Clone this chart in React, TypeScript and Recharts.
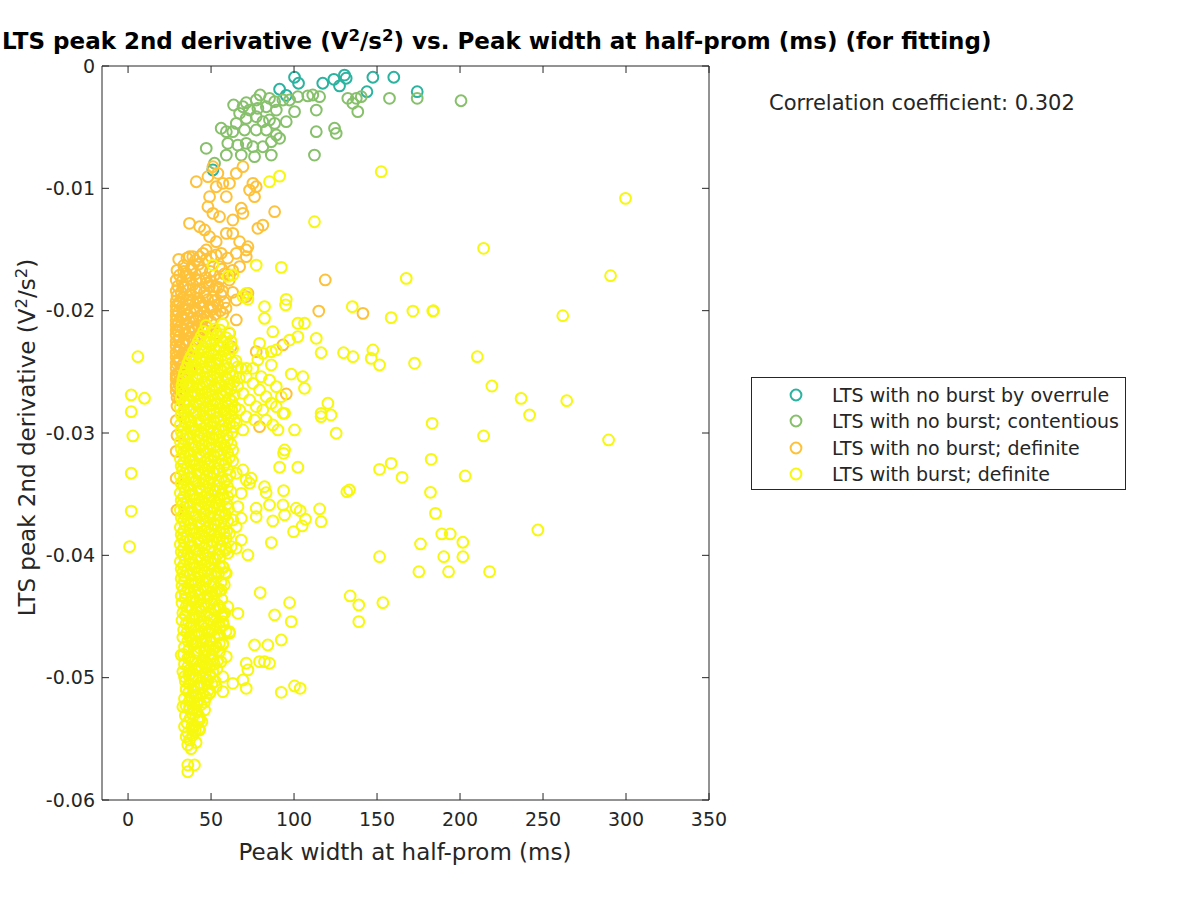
import React from 'react';
import { ReferenceLine, Scatter, ScatterChart, XAxis, YAxis } from 'recharts';

type Pt = [number, number];

const xTicks = [0, 50, 100, 150, 200, 250, 300, 350];
const yTicks = [-0.06, -0.05, -0.04, -0.03, -0.02, -0.01, 0];
const xDomain: [number, number] = [-15.7, 350];
const yDomain: [number, number] = [-0.06, 0];

// LTS with no burst by overrule
const overrule: Pt[] = [
  [100.3, -0.00092], [102.7, -0.00141], [117.3, -0.00141], [124.0, -0.00109], [130.4, -0.00074],
  [131.4, -0.001], [127.4, -0.00163], [147.5, -0.00092], [160.1, -0.00092], [174.2, -0.0021],
  [143.9, -0.0021], [91.3, -0.0019], [95.3, -0.0024], [51.1, -0.0085],
];

// LTS with no burst; contentious
const contentious: Pt[] = [
  [63.6, -0.00319], [71.2, -0.003], [79.6, -0.00237], [77.2, -0.00278], [85.2, -0.00264],
  [88.3, -0.00292], [93.3, -0.00278], [97.3, -0.00278], [102.3, -0.00251], [108.3, -0.00245],
  [111.3, -0.00237], [115.4, -0.00251], [113.4, -0.0036], [100.3, -0.00373], [95.3, -0.00455],
  [88.3, -0.00469], [85.2, -0.00441], [81.2, -0.00455], [77.2, -0.00414], [71.2, -0.00428],
  [67.2, -0.00387], [65.2, -0.00469], [56.1, -0.00509], [59.2, -0.00537], [63.1, -0.00537],
  [70.2, -0.00523], [77.2, -0.00523], [83.3, -0.00523], [89.3, -0.00564], [91.3, -0.00591],
  [86.3, -0.00619], [81.2, -0.0066], [75.2, -0.0066], [71.2, -0.00632], [66.1, -0.00646],
  [60.1, -0.00632], [59.2, -0.00728], [68.2, -0.00728], [76.2, -0.00741], [86.3, -0.00728],
  [47.1, -0.00673], [52.1, -0.00795], [113.4, -0.00537], [124.4, -0.00509], [125.4, -0.0055],
  [112.3, -0.00728], [132.4, -0.00264], [137.5, -0.00264], [140.5, -0.00251], [135.4, -0.00305],
  [138.4, -0.00373], [157.5, -0.00264], [174.2, -0.00264], [69.2, -0.00333], [73.2, -0.0036],
  [78.2, -0.00346], [83.3, -0.00333], [89.3, -0.0036], [200.6, -0.00284],
];

// LTS with no burst; definite
const noBurstSpread: Pt[] = [
  [41.1, -0.00946], [48.1, -0.00905], [51.1, -0.00823], [54.1, -0.00877], [57.1, -0.00959],
  [53.1, -0.00987], [61.1, -0.00959], [65.2, -0.00877], [69.2, -0.00823], [59.2, -0.01068],
  [49.1, -0.01068], [48.1, -0.0115], [51.1, -0.01204], [55.1, -0.01232], [68.2, -0.01163],
  [69.2, -0.01204], [63.1, -0.01259], [37.0, -0.01286], [43.1, -0.01314], [46.1, -0.0134],
  [49.1, -0.01395], [53.1, -0.01436], [59.2, -0.01368], [63.1, -0.01368], [67.2, -0.01436],
  [72.2, -0.01477], [78.2, -0.01327], [81.2, -0.013], [73.2, -0.01014], [76.2, -0.01068],
  [77.2, -0.00987], [75.2, -0.00959], [88.3, -0.01191], [47.1, -0.01504], [39.0, -0.01559],
  [43.1, -0.01559], [50.1, -0.01559], [56.1, -0.01531], [65.2, -0.01531], [71.2, -0.01504],
  [37.0, -0.01559], [45.1, -0.01531], [53.1, -0.01545], [71.2, -0.01559], [67.2, -0.0164],
  [61.1, -0.01708], [35.0, -0.01695], [41.1, -0.01749], [33.0, -0.01804], [47.1, -0.01776],
  [53.1, -0.01804], [72.2, -0.01858], [65.2, -0.01913], [71.2, -0.01885], [31.0, -0.0194],
  [37.0, -0.01913], [43.1, -0.0194], [51.1, -0.01967], [57.1, -0.02022], [65.2, -0.02076],
  [33.0, -0.02049], [39.0, -0.02131], [45.1, -0.02076], [30.0, -0.02158], [35.0, -0.0224],
  [43.1, -0.02212], [53.1, -0.02185], [61.1, -0.02185], [62.1, -0.02294], [31.0, -0.02294],
  [30.0, -0.02403], [37.0, -0.02376], [29.0, -0.0254], [33.0, -0.02594], [29.0, -0.02621],
  [37.0, -0.02485], [31.0, -0.0273], [77.2, -0.02335], [93.3, -0.0228], [95.3, -0.02681],
  [79.2, -0.02948], [118.8, -0.01749], [114.9, -0.02003], [141.5, -0.02022], [29.0, -0.0337],
  [29.5, -0.0363],
];

const noBurstCloud: Pt[] = [
  [33.5, -0.0163], [38, -0.0165], [42.5, -0.0162], [55, -0.0164],
  [31, -0.0171], [36, -0.0172], [40.5, -0.017], [47, -0.0173], [52, -0.0171], [58, -0.017],
  [30, -0.018], [34.5, -0.0181], [39, -0.0179], [43.5, -0.0182], [49, -0.018], [54.5, -0.0181],
  [29.5, -0.0188], [33, -0.0189], [37.5, -0.0187], [42, -0.019], [46.5, -0.0188], [51, -0.0189], [56, -0.0187],
  [29, -0.0196], [32.5, -0.0197], [36, -0.0195], [40.5, -0.0198], [45, -0.0196], [49.5, -0.0197], [54, -0.0195], [59, -0.0198],
  [29, -0.0204], [32, -0.0205], [35.5, -0.0203], [39, -0.0206], [43.5, -0.0204], [48, -0.0205], [52.5, -0.0203],
  [29, -0.0212], [31.5, -0.0213], [35, -0.0211], [38.5, -0.0214], [42.5, -0.0212], [47, -0.0213],
  [29, -0.022], [31, -0.0221], [34.5, -0.0219], [38, -0.0222], [42, -0.022],
  [29, -0.0229], [31.5, -0.023], [35, -0.0228], [39, -0.0231],
  [29, -0.0238], [31, -0.0239], [34.5, -0.0237],
  [29, -0.0247], [32, -0.0248], [35, -0.0246],
  [29, -0.0256], [31, -0.0257],
  [29, -0.0266], [31.5, -0.0267],
  [29.5, -0.0278], [29, -0.029], [29.5, -0.0302], [29, -0.0315],
  [30.5, -0.0158], [35.5, -0.0157], [40.5, -0.0159], [47, -0.0158], [60, -0.0157],
  [29.5, -0.0167], [33.5, -0.0168], [38.5, -0.0166], [44.5, -0.0167], [49.5, -0.0168], [56.5, -0.0166], [63, -0.0167],
  [29, -0.0175], [32.5, -0.0176], [37.5, -0.0174], [43, -0.0175], [50, -0.0176], [55.5, -0.0174], [61, -0.0175],
  [29, -0.0184], [32, -0.0185], [36.5, -0.0183], [41, -0.0184], [46, -0.0185], [51.5, -0.0183], [57, -0.0184], [63, -0.0185],
  [29, -0.0192], [31, -0.0193], [35, -0.0191], [39, -0.0192], [43.5, -0.0193], [48, -0.0191], [52.5, -0.0192], [58, -0.0193],
  [29, -0.02], [30.5, -0.0201], [34, -0.0199], [37.5, -0.0201], [41.5, -0.02], [46, -0.0201], [50.5, -0.0199], [55.5, -0.02],
  [29, -0.0208], [30.5, -0.0209], [33.5, -0.0207], [37, -0.0209], [41, -0.0208], [45, -0.0207], [50, -0.0209],
  [29, -0.0216], [30.5, -0.0217], [33, -0.0215], [36.5, -0.0217], [40.5, -0.0216], [44.5, -0.0215],
  [29, -0.0225], [30.5, -0.0224], [33, -0.0226], [36.5, -0.0225], [40, -0.0224],
  [29, -0.0234], [30.5, -0.0233], [33, -0.0235], [36.5, -0.0234],
  [29, -0.0243], [30.5, -0.0242], [33, -0.0244],
  [29, -0.0252], [30.5, -0.0251], [33, -0.0253],
  [29, -0.0261], [30.5, -0.026],
  [29.5, -0.0271],
];

// LTS with burst; definite
const burstSpread: Pt[] = [
  [85.2, -0.00946], [91.3, -0.009], [112.3, -0.01273], [152.5, -0.00864],
  [51.1, -0.01627], [63.1, -0.01708], [60.1, -0.0172], [77.2, -0.01627], [92.3, -0.01646],
  [71.2, -0.01858], [72.2, -0.01907], [69.2, -0.01885], [82.2, -0.01967], [82.2, -0.02063],
  [95.3, -0.01907], [94.9, -0.01953], [87.2, -0.02172], [102.3, -0.02103], [106.3, -0.02103],
  [102.3, -0.02212], [97.3, -0.0224], [89.3, -0.02321], [86.3, -0.02335], [79.2, -0.02267],
  [81.2, -0.02349], [86.3, -0.02444], [78.2, -0.02403], [71.2, -0.02471], [75.2, -0.02471],
  [80.2, -0.0254], [85.2, -0.02567], [89.3, -0.02621], [98.3, -0.02518], [105.3, -0.0254],
  [106.3, -0.02635], [113.4, -0.02226], [116.3, -0.02344], [135.1, -0.01967], [158.5, -0.02057],
  [167.6, -0.01736], [171.6, -0.02003], [183.6, -0.02003], [129.8, -0.02344], [135.5, -0.02376],
  [147.5, -0.02321], [146.5, -0.0239], [151.5, -0.02444], [172.6, -0.0243], [120.4, -0.02757],
  [116.3, -0.02839], [116.3, -0.02866], [122.3, -0.02853], [125.4, -0.03002], [94.3, -0.02839],
  [90.3, -0.02975], [100.3, -0.02975], [94.3, -0.03139], [5.9, -0.02376], [1.9, -0.02689],
  [9.9, -0.02716], [1.9, -0.02826], [2.9, -0.03024],
  [68.2, -0.02471], [71.2, -0.0254], [75.2, -0.02594], [79.2, -0.02648], [83.2, -0.02703],
  [86.3, -0.02757], [89.3, -0.02785], [92.3, -0.02703], [93.3, -0.02839], [81.2, -0.02812],
  [77.2, -0.02785], [73.2, -0.0273], [69.2, -0.02676], [67.2, -0.02812], [71.2, -0.02866],
  [76.2, -0.02894], [83.2, -0.02894], [87.2, -0.02934], [69.2, -0.02975], [65.2, -0.0292],
  [1.9, -0.03329], [1.9, -0.03638], [0.9, -0.03929], [93.7, -0.03166], [91.3, -0.0328],
  [102.3, -0.0328], [82.2, -0.03439], [83.2, -0.03488], [93.7, -0.03471], [74.2, -0.0337],
  [73.2, -0.0341], [85.2, -0.03588], [93.3, -0.03588], [77.2, -0.03615], [77.2, -0.03684],
  [87.2, -0.03719], [94.3, -0.0367], [101.3, -0.03615], [103.7, -0.03635], [106.9, -0.03705],
  [115.4, -0.03621], [116.3, -0.03725], [99.7, -0.03807], [104.9, -0.0376], [86.3, -0.03896],
  [72.2, -0.03997], [68.2, -0.03875], [65.2, -0.03942], [60.1, -0.03983], [66.2, -0.04474],
  [79.6, -0.04305], [97.3, -0.04387], [88.3, -0.04487], [98.3, -0.04542], [133.8, -0.04332],
  [139.0, -0.04406], [139.0, -0.04542], [153.5, -0.04387], [151.5, -0.04011], [175.2, -0.04134],
  [176.2, -0.03907], [151.5, -0.03297], [158.5, -0.03248], [165.1, -0.03362], [131.8, -0.0348],
  [133.4, -0.03466],
  [65.2, -0.03329], [69.2, -0.03302], [71.2, -0.03384], [68.2, -0.03493], [66.2, -0.03602],
  [63.1, -0.03711], [65.2, -0.03766], [61.1, -0.0382], [68.2, -0.03697], [62.1, -0.03929],
  [57.1, -0.03875], [57.1, -0.04093], [59.2, -0.04147], [56.1, -0.04283], [60.1, -0.0442],
  [58.2, -0.04474], [57.1, -0.04542], [61.1, -0.04624],
  [76.2, -0.04733], [84.2, -0.04733], [92.3, -0.04692], [71.2, -0.04882], [72.2, -0.04937],
  [79.2, -0.04869], [82.2, -0.04869], [85.2, -0.04882], [69.2, -0.05019], [71.2, -0.05087],
  [92.3, -0.0512], [100.3, -0.05068], [103.7, -0.05087], [61.1, -0.04637], [36.0, -0.05714],
  [40.0, -0.05714], [36.0, -0.05769],
  [32.0, -0.04814], [34.0, -0.04992], [33.0, -0.05237], [34.0, -0.054], [36.0, -0.0555],
  [43.1, -0.05428], [46.1, -0.05264], [49.1, -0.05128], [53.1, -0.05073], [57.1, -0.04992],
  [63.1, -0.05046], [59.2, -0.04828], [57.1, -0.04719], [55.1, -0.04651], [37.0, -0.04665],
  [39.0, -0.05428], [35.0, -0.05482], [43.1, -0.05346], [37.0, -0.05237], [41.1, -0.05155],
  [35.0, -0.051], [37.0, -0.04937], [47.1, -0.05019], [45.1, -0.04882], [51.1, -0.04855],
  [53.1, -0.04746], [47.1, -0.04774], [41.1, -0.04719], [57.1, -0.05114],
  [299.7, -0.01082], [214.2, -0.0149], [290.7, -0.01714], [184.0, -0.02], [261.9, -0.02041],
  [210.4, -0.02376], [219.2, -0.02616], [236.8, -0.02717], [264.3, -0.02736], [241.9, -0.02853],
  [183.2, -0.02921], [214.2, -0.03024], [289.5, -0.03057], [182.6, -0.03215], [203.1, -0.03351],
  [182.2, -0.03485], [185.2, -0.03657], [189.0, -0.03825], [194.1, -0.03825], [201.7, -0.03893],
  [190.2, -0.04011], [201.7, -0.04011], [193.1, -0.04134], [217.8, -0.04134], [246.9, -0.03793],
];

const burstCloud: Pt[] = [
  [47, -0.0212], [52, -0.0215], [57, -0.0211],
  [44, -0.0221], [49.5, -0.0223], [54, -0.022], [59, -0.0222],
  [41, -0.0229], [45.5, -0.0231], [50, -0.0228], [55, -0.023], [60, -0.0228],
  [38, -0.0237], [42.5, -0.0235], [47, -0.0238], [51.5, -0.0236], [56, -0.0237], [61, -0.0235],
  [36, -0.0243], [40, -0.0245], [44.5, -0.0242], [49, -0.0244], [53.5, -0.0243], [58, -0.0245], [63, -0.0242],
  [34, -0.0251], [38.5, -0.0249], [43, -0.0252], [47.5, -0.025], [52, -0.0251], [56.5, -0.0249], [61, -0.0251],
  [33, -0.0257], [37, -0.0259], [41.5, -0.0256], [46, -0.0258], [50.5, -0.0257], [55, -0.0259], [60, -0.0256], [64, -0.0258],
  [32.5, -0.0265], [36, -0.0263], [40, -0.0266], [44.5, -0.0264], [49, -0.0265], [53.5, -0.0263], [58, -0.0265], [62, -0.0264],
  [32, -0.0271], [35, -0.0273], [39.5, -0.027], [43.5, -0.0272], [48, -0.0271], [52.5, -0.0273], [57, -0.027], [61, -0.0272],
  [31.5, -0.0279], [34, -0.0277], [38, -0.028], [42.5, -0.0278], [47, -0.0279], [51, -0.0277], [55.5, -0.028], [60, -0.0278], [64.5, -0.0279],
  [32, -0.0285], [36, -0.0287], [40.5, -0.0284], [45, -0.0286], [49.5, -0.0285], [54, -0.0287], [58.5, -0.0284], [62, -0.0286],
  [31.5, -0.0293], [34.5, -0.0291], [38.5, -0.0294], [43, -0.0292], [47.5, -0.0293], [52, -0.0291], [56.5, -0.0294], [61, -0.0292],
  [32, -0.0299], [35.5, -0.0301], [40, -0.0298], [44, -0.03], [48.5, -0.0299], [53, -0.0301], [57.5, -0.0298], [62.5, -0.03],
  [31.5, -0.0307], [34, -0.0305], [38.5, -0.0308], [42.5, -0.0306], [47, -0.0307], [51.5, -0.0305], [56, -0.0308], [60, -0.0306],
  [32, -0.0313], [36, -0.0315], [40.5, -0.0312], [45, -0.0314], [49.5, -0.0313], [54, -0.0315], [58.5, -0.0312], [63, -0.0314],
  [31.5, -0.0321], [34.5, -0.0319], [39, -0.0322], [43.5, -0.032], [48, -0.0321], [52, -0.0319], [56.5, -0.0322], [61, -0.032],
  [32, -0.0327], [35.5, -0.0329], [40, -0.0326], [44.5, -0.0328], [49, -0.0327], [53.5, -0.0329], [58, -0.0326],
  [31.5, -0.0335], [34, -0.0333], [38.5, -0.0336], [43, -0.0334], [47.5, -0.0335], [52, -0.0333], [56.5, -0.0336], [61.5, -0.0334],
  [32, -0.0341], [36, -0.0343], [40.5, -0.034], [45, -0.0342], [49, -0.0341], [53.5, -0.0343], [58, -0.034],
  [31.5, -0.0349], [34.5, -0.0347], [39, -0.035], [43.5, -0.0348], [48, -0.0349], [52.5, -0.0347], [57, -0.035], [62, -0.0348],
  [32, -0.0355], [35.5, -0.0357], [40, -0.0354], [44.5, -0.0356], [49, -0.0355], [53, -0.0357], [58, -0.0354],
  [31.5, -0.0363], [34, -0.0361], [38.5, -0.0364], [43, -0.0362], [47.5, -0.0363], [52, -0.0361], [56.5, -0.0364], [60.5, -0.0362],
  [32, -0.0369], [36, -0.0371], [40.5, -0.0368], [45, -0.037], [49.5, -0.0369], [54, -0.0371], [58.5, -0.0368],
  [31.5, -0.0377], [34.5, -0.0375], [39, -0.0378], [43.5, -0.0376], [48, -0.0377], [52.5, -0.0375], [57, -0.0378],
  [32, -0.0383], [35.5, -0.0385], [40, -0.0382], [44.5, -0.0384], [49, -0.0383], [53.5, -0.0385], [58, -0.0382],
  [31.5, -0.0391], [34, -0.0389], [38.5, -0.0392], [43, -0.039], [47.5, -0.0391], [51.5, -0.0389], [56, -0.0392],
  [32, -0.0397], [36, -0.0399], [40.5, -0.0396], [45, -0.0398], [49, -0.0397], [54, -0.0399], [58.5, -0.0396],
  [31.5, -0.0405], [34.5, -0.0403], [39, -0.0406], [43.5, -0.0404], [48, -0.0405], [52.5, -0.0403],
  [32, -0.0411], [35.5, -0.0413], [40, -0.041], [44.5, -0.0412], [49, -0.0411], [53.5, -0.0413], [57.5, -0.041],
  [32, -0.0419], [34, -0.0417], [38.5, -0.042], [43, -0.0418], [47.5, -0.0419], [52, -0.0417],
  [32.5, -0.0425], [36, -0.0427], [40.5, -0.0424], [45, -0.0426], [49.5, -0.0425], [54, -0.0427], [58, -0.0424],
  [32, -0.0433], [34.5, -0.0431], [39, -0.0434], [43.5, -0.0432], [48, -0.0433], [52.5, -0.0431],
  [32.5, -0.0439], [36.5, -0.0441], [41, -0.0438], [45.5, -0.044], [50, -0.0439], [54.5, -0.0441],
  [33, -0.0447], [35.5, -0.0445], [40, -0.0448], [44, -0.0446], [48.5, -0.0447], [53, -0.0445], [57, -0.0448],
  [32.5, -0.0453], [36.5, -0.0455], [41, -0.0452], [45.5, -0.0454], [50, -0.0453], [54.5, -0.0455],
  [33.5, -0.0461], [37.5, -0.0459], [42, -0.0462], [46.5, -0.046], [51, -0.0461], [55.5, -0.0459], [59, -0.0462],
  [33, -0.0467], [38, -0.0469], [42.5, -0.0466], [47, -0.0468], [52, -0.0467],
  [34, -0.0475], [39, -0.0473], [43.5, -0.0476], [48.5, -0.0474], [53, -0.0475], [57, -0.0473],
  [33.5, -0.0481], [37, -0.0483], [41.5, -0.048], [46, -0.0482], [50.5, -0.0481],
  [34, -0.0489], [38.5, -0.0487], [43, -0.049], [47.5, -0.0488], [52, -0.0489], [56, -0.0487],
  [33, -0.0495], [37.5, -0.0497], [42, -0.0494], [46.5, -0.0496], [51, -0.0495],
  [34.5, -0.0503], [39, -0.0501], [43.5, -0.0504], [48, -0.0502], [52.5, -0.0503],
  [35, -0.0509], [39.5, -0.0511], [44, -0.0508], [48.5, -0.051],
  [34, -0.0517], [38, -0.0515], [42.5, -0.0518], [47, -0.0516],
  [35, -0.0523], [39.5, -0.0525], [44, -0.0522],
  [34.5, -0.0531], [38.5, -0.0529], [43, -0.0532],
  [35.5, -0.0537], [40, -0.0539], [44.5, -0.0536],
  [36, -0.0545], [40.5, -0.0543],
  [37, -0.0551], [41, -0.0553],
  [38, -0.0558],
];

const burstCloudFill: Pt[] = [
  [45.5, -0.0217], [50.5, -0.0218], [55.5, -0.0216], [61, -0.0218],
  [42.5, -0.0225], [47, -0.0226], [52, -0.0224], [57, -0.0226], [62, -0.0225],
  [39.5, -0.0233], [44, -0.0232], [48.5, -0.0234], [53, -0.0232], [58, -0.0233], [63, -0.0231],
  [37, -0.024], [40.5, -0.0241], [45, -0.0239], [49.5, -0.0241], [54, -0.024], [59, -0.0239], [65, -0.0241],
  [35, -0.0247], [38.5, -0.0246], [42, -0.0248], [46.5, -0.0247], [51, -0.0246], [55.5, -0.0248], [60, -0.0247], [66, -0.0246],
  [33.5, -0.0254], [36, -0.0253], [40.5, -0.0255], [45, -0.0254], [49.5, -0.0253], [54, -0.0255], [58.5, -0.0254], [63, -0.0253], [67, -0.0255],
  [32.5, -0.0261], [35, -0.026], [39, -0.0262], [43, -0.0261], [47.5, -0.026], [52, -0.0262], [56.5, -0.0261], [61, -0.026], [66, -0.0262],
  [33.5, -0.0267], [38, -0.0269], [42, -0.0268], [46.5, -0.0267], [51, -0.0269], [55.5, -0.0268], [59.5, -0.0267], [64, -0.0269],
  [33.5, -0.0275], [36.5, -0.0274], [41, -0.0276], [45, -0.0275], [49.5, -0.0274], [54, -0.0276], [58.5, -0.0275], [62.5, -0.0274],
  [33.5, -0.0282], [36.5, -0.0281], [41, -0.0283], [45, -0.0282], [49.5, -0.0281], [53.5, -0.0283], [58, -0.0282], [62.5, -0.0281],
  [33.5, -0.0288], [38, -0.029], [42.5, -0.0289], [47, -0.0288], [51.5, -0.029], [56, -0.0289], [60.5, -0.0288], [64, -0.029],
  [33.5, -0.0296], [36.5, -0.0295], [41, -0.0297], [45.5, -0.0296], [50, -0.0295], [54.5, -0.0297], [59, -0.0296], [63.5, -0.0295],
  [33, -0.0302], [37.5, -0.0304], [42, -0.0303], [46, -0.0302], [50.5, -0.0304], [55, -0.0303], [59.5, -0.0302],
  [33.5, -0.031], [36.5, -0.0309], [40.5, -0.0311], [44.5, -0.031], [49, -0.0309], [53.5, -0.0311], [58, -0.031], [62, -0.0309],
  [33.5, -0.0316], [38, -0.0318], [42.5, -0.0317], [47, -0.0316], [51.5, -0.0318], [56, -0.0317], [60, -0.0316],
  [33.5, -0.0324], [37, -0.0323], [41.5, -0.0325], [46, -0.0324], [50, -0.0323], [54.5, -0.0325], [59, -0.0324], [63, -0.0323],
  [33, -0.033], [37.5, -0.0332], [42, -0.0331], [46.5, -0.033], [51, -0.0332], [55, -0.0331], [60, -0.033],
  [33.5, -0.0338], [36.5, -0.0337], [41, -0.0339], [45.5, -0.0338], [50, -0.0337], [54.5, -0.0339], [59.5, -0.0338],
  [33.5, -0.0344], [38, -0.0346], [42.5, -0.0345], [47, -0.0344], [51, -0.0346], [55.5, -0.0345], [60, -0.0344],
  [33.5, -0.0352], [37, -0.0351], [41.5, -0.0353], [46, -0.0352], [50.5, -0.0351], [55, -0.0353], [60, -0.0352],
  [33, -0.0358], [37.5, -0.036], [42, -0.0359], [46.5, -0.0358], [50.5, -0.036], [55, -0.0359], [59.5, -0.0358],
  [33.5, -0.0366], [36.5, -0.0365], [41, -0.0367], [45.5, -0.0366], [50, -0.0365], [54.5, -0.0367], [58.5, -0.0366],
  [33.5, -0.0372], [38, -0.0374], [42.5, -0.0373], [47, -0.0372], [51.5, -0.0374], [56, -0.0373], [60, -0.0372],
  [33.5, -0.038], [37, -0.0379], [41.5, -0.0381], [46, -0.038], [50.5, -0.0379], [55, -0.0381], [59.5, -0.038],
  [33, -0.0386], [37.5, -0.0388], [42, -0.0387], [46, -0.0386], [50.5, -0.0388], [55, -0.0387], [59, -0.0386],
  [33.5, -0.0394], [37, -0.0393], [41.5, -0.0395], [46, -0.0394], [50.5, -0.0393], [55, -0.0395], [59, -0.0394],
  [33.5, -0.04], [38, -0.0402], [42, -0.0401], [46.5, -0.04], [51, -0.0402], [55.5, -0.0401],
  [33.5, -0.0408], [37, -0.0407], [41.5, -0.0409], [46, -0.0408], [50.5, -0.0407], [55, -0.0409],
  [33, -0.0414], [37.5, -0.0416], [42, -0.0415], [46, -0.0414], [50, -0.0416], [54.5, -0.0415], [58.5, -0.0414],
  [34, -0.0421], [38, -0.0423], [42.5, -0.0422], [47, -0.0421], [51.5, -0.0423], [56, -0.0422],
  [33.5, -0.0428], [37.5, -0.043], [42, -0.0429], [46.5, -0.0428], [50.5, -0.043], [55, -0.0429],
  [34.5, -0.0435], [39, -0.0437], [43.5, -0.0436], [48, -0.0435], [52, -0.0437], [56.5, -0.0436],
  [35, -0.0442], [38.5, -0.0444], [42.5, -0.0443], [47, -0.0442], [51.5, -0.0444], [55.5, -0.0443],
  [34.5, -0.0449], [38.5, -0.0451], [43, -0.045], [47.5, -0.0449], [52, -0.0451], [56.5, -0.045],
  [35, -0.0456], [39.5, -0.0458], [44, -0.0457], [48.5, -0.0456], [53, -0.0458], [57.5, -0.0457],
  [35.5, -0.0463], [40, -0.0465], [44.5, -0.0464], [49, -0.0463], [54, -0.0465],
  [36, -0.047], [40.5, -0.0472], [45, -0.0471], [50, -0.047], [55, -0.0472],
  [36.5, -0.0477], [41, -0.0479], [46, -0.0478], [51, -0.0477], [55, -0.0479],
  [36, -0.0484], [40.5, -0.0486], [45, -0.0485], [49.5, -0.0484], [54, -0.0486],
  [36, -0.0491], [40.5, -0.0493], [44.5, -0.0492], [49, -0.0491], [53.5, -0.0493],
  [36.5, -0.0498], [41, -0.05], [45, -0.0499], [49.5, -0.0498],
  [37, -0.0505], [41.5, -0.0507], [46, -0.0506], [50.5, -0.0505],
  [36.5, -0.0512], [41, -0.0514], [45, -0.0513], [49.5, -0.0512],
  [37, -0.0519], [41.5, -0.0521], [46, -0.052],
  [37, -0.0526], [41.5, -0.0528],
  [37.5, -0.0533], [42, -0.0535],
  [38.5, -0.054], [42.5, -0.0542],
  [39, -0.0547],
];

const seriesNames = [
  'LTS with no burst by overrule',
  'LTS with no burst; contentious',
  'LTS with no burst; definite',
  'LTS with burst; definite',
];
const seriesColors = ['#2bb3a0', '#87c06b', '#fec23a', '#f7f80f'];
const seriesPoints: Pt[][] = [
  overrule,
  contentious,
  [...noBurstSpread, ...noBurstCloud],
  [...burstSpread, ...burstCloud, ...burstCloudFill],
];

const correlation = 0.302;

const FONT = '"DejaVu Sans", sans-serif';
const INK = '#262626';
// plot box in page pixels (follows from the chart margins and axis sizes below)
const PLOT = { left: 102, right: 709, top: 66, bottom: 800 };
const TICK_LEN = 7;

const toRows = (pts: Pt[]) => pts.map(([x, y]) => ({ x, y }));

const ring = (color: string) => (p: any) =>
  <circle cx={p.cx} cy={p.cy} r={5.4} fill="none" stroke={color} strokeWidth={2} />;

// MATLAB style: ticks point inward, on both opposite sides of the box
const BottomTick = (p: any) => (
  <g>
    <line x1={p.x} x2={p.x} y1={PLOT.bottom} y2={PLOT.bottom - TICK_LEN} stroke={INK} />
    <line x1={p.x} x2={p.x} y1={PLOT.top} y2={PLOT.top + TICK_LEN} stroke={INK} />
    <text x={p.x} y={PLOT.bottom + 13} dy="0.71em" textAnchor="middle" fill={INK} fontSize={19} fontFamily={FONT}>
      {p.payload.value}
    </text>
  </g>
);

const LeftTick = (p: any) => (
  <g>
    <line x1={PLOT.left} x2={PLOT.left + TICK_LEN} y1={p.y} y2={p.y} stroke={INK} />
    <line x1={PLOT.right} x2={PLOT.right - TICK_LEN} y1={p.y} y2={p.y} stroke={INK} />
    <text x={PLOT.left - 7} y={p.y} dy="0.355em" textAnchor="end" fill={INK} fontSize={19} fontFamily={FONT}>
      {p.payload.value === 0 ? '0' : String(p.payload.value)}
    </text>
  </g>
);

const Sup = ({ children }: { children: React.ReactNode }) => (
  <span style={{ fontSize: '0.72em', position: 'relative', top: '-0.5em' }}>{children}</span>
);

export default function App() {
  return (
    <div style={{ position: 'absolute', left: 0, top: 0, width: 1200, height: 900, background: '#fff', fontFamily: FONT, color: INK }}>
      <ScatterChart width={1200} height={900} margin={{ top: 66, right: 491, bottom: 40, left: 42 }}>
        <XAxis
          xAxisId="b" type="number" dataKey="x" domain={xDomain} ticks={xTicks} allowDataOverflow
          height={60} tickLine={false} stroke={INK} tick={<BottomTick />} interval={0}
        />
        <YAxis
          yAxisId="l" type="number" dataKey="y" domain={yDomain} ticks={yTicks} allowDataOverflow
          width={60} tickLine={false} stroke={INK} tick={<LeftTick />} interval={0}
        />
        <ReferenceLine xAxisId="b" yAxisId="l" y={0} stroke={INK} strokeWidth={1} />
        <ReferenceLine xAxisId="b" yAxisId="l" x={350} stroke={INK} strokeWidth={1} />
        {seriesPoints.map((pts, i) => (
          <Scatter
            key={seriesNames[i]}
            name={seriesNames[i]}
            xAxisId="b"
            yAxisId="l"
            data={toRows(pts)}
            shape={ring(seriesColors[i])}
            isAnimationActive={false}
          />
        ))}
      </ScatterChart>

      <div style={{ position: 'absolute', left: 2, top: 31, fontSize: 23, fontWeight: 'bold', color: '#000', whiteSpace: 'nowrap', lineHeight: '20px' }}>
        LTS peak 2nd derivative (V<Sup>2</Sup>/s<Sup>2</Sup>) vs. Peak width at half-prom (ms) (for fitting)
      </div>
      <div style={{ position: 'absolute', left: 205, width: 400, textAlign: 'center', top: 838, fontSize: 23, lineHeight: '28px', whiteSpace: 'nowrap' }}>
        Peak width at half-prom (ms)
      </div>
      <div style={{ position: 'absolute', left: 28 - 200, top: 436 - 14, width: 400, textAlign: 'center', fontSize: 23, whiteSpace: 'nowrap', transform: 'rotate(-90deg)', lineHeight: '28px' }}>
        LTS peak 2nd derivative (V<Sup>2</Sup>/s<Sup>2</Sup>)
      </div>
      <div style={{ position: 'absolute', left: 769, top: 89, fontSize: 21, lineHeight: '28px', whiteSpace: 'nowrap' }}>
        Correlation coefficient: {correlation.toFixed(3)}
      </div>
      <div style={{ position: 'absolute', left: 751, top: 377, width: 373, height: 111, border: `1px solid ${INK}`, background: '#fff' }}>
        {seriesNames.map((name, i) => (
          <div key={name} style={{ position: 'absolute', left: 0, top: 5 + i * 26.3, height: 24, display: 'flex', alignItems: 'center' }}>
            <svg width={80} height={24}>
              <circle cx={44} cy={12} r={5.4} fill="none" stroke={seriesColors[i]} strokeWidth={2} />
            </svg>
            <span style={{ fontSize: 19, whiteSpace: 'nowrap' }}>{name}</span>
          </div>
        ))}
      </div>
    </div>
  );
}
